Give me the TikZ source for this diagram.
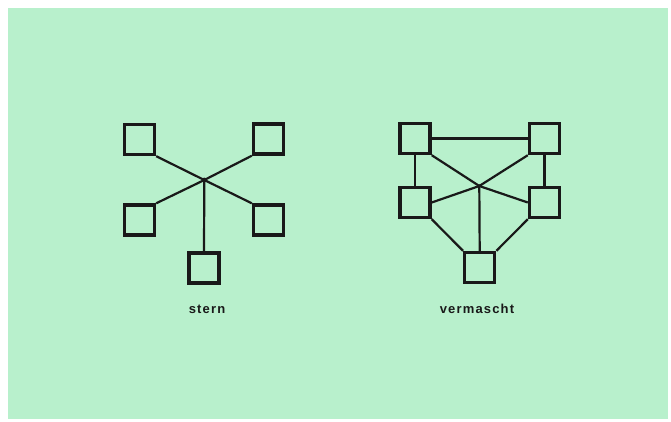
\documentclass[tikz,border=0pt]{standalone}
\usepackage{fontspec}
\setmainfont{Liberation Sans}
\newfontfamily\labelfont[LetterSpace=9]{Liberation Sans}
\definecolor{mint}{RGB}{184,240,204}
\definecolor{ink}{RGB}{25,25,25}
\tikzset{
  station/.style={draw=ink, line width=3.4pt, minimum size=30pt, inner sep=0pt},
  link/.style={draw=ink, line width=2.2pt},
  caption/.style={font=\labelfont\bfseries\fontsize{13}{15}\selectfont, text=ink, anchor=base, inner sep=0pt},
}
\begin{document}
\begin{tikzpicture}[x=1pt,y=-1pt]
\useasboundingbox (0,0) rectangle (671,421);
\fill[white] (0,0) rectangle (671,421);
\fill[mint] (8,8) rectangle (668,419);
% stern
\node[station] (s1) at (139.5,139.5) {};
\node[station] (s2) at (268.5,139) {};
\node[station] (s3) at (139.5,220) {};
\node[station] (s4) at (268.5,220) {};
\node[station] (s5) at (204,268) {};
\coordinate (sh) at (204.3,180);
\draw[link] (s1.south east) -- (sh);
\draw[link] (s2.south west) -- (sh);
\draw[link] (s3.north east) -- (sh);
\draw[link] (s4.north west) -- (sh);
\draw[link] (s5.north) -- (sh);
\fill[ink] (sh) circle (2.4pt);
\node[caption] (st) at (207,313.5) {stern};
% vermascht
\node[station] (m1) at (415,138.5) {};
\node[station] (m2) at (544.5,138.5) {};
\node[station] (m3) at (415,202.5) {};
\node[station] (m4) at (544.5,202.5) {};
\node[station] (m5) at (479.7,267.5) {};
\coordinate (mh) at (479.3,186);
\draw[link] (m1.east) -- (m2.west);
\draw[link] (m1.south) -- (m3.north);
\draw[link] (m2.south) -- (m4.north);
\draw[link] (m1.south east) -- (mh);
\draw[link] (m2.south west) -- (mh);
\draw[link] (m3.east) -- (mh);
\draw[link] (m4.west) -- (mh);
\draw[link] (m5.north) -- (mh);
\draw[link] (m3.south east) -- (m5.north west);
\draw[link] (m4.south west) -- (m5.north east);
\fill[ink] (mh) circle (1.8pt);
\node[caption] (vm) at (477,313.5) {vermascht};
\end{tikzpicture}
\end{document}
